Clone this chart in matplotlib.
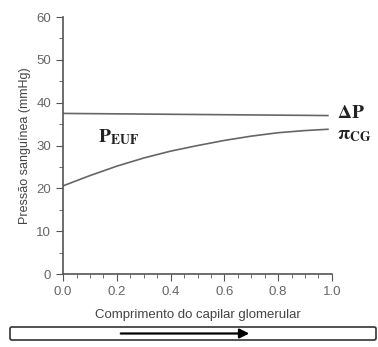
import matplotlib
matplotlib.use("Agg")
import matplotlib.pyplot as plt
from matplotlib.patches import FancyBboxPatch, FancyArrowPatch
from matplotlib.ticker import MultipleLocator

plt.rcParams["mathtext.fontset"] = "stix"

# data
comprimento = [0.0, 0.1, 0.2, 0.3, 0.4, 0.5, 0.6, 0.7, 0.8, 0.9, 0.985]
delta_p = [37.5, 37.45, 37.4, 37.35, 37.3, 37.25, 37.2, 37.15, 37.1, 37.05, 37.0]
pi_cg = [20.6, 23.0, 25.2, 27.1, 28.7, 30.0, 31.2, 32.2, 33.0, 33.5, 33.8]

fig = plt.figure(figsize=(3.78, 3.47), dpi=100)
ax = fig.add_axes([0.167, 0.21, 0.711, 0.741])

ax.plot(comprimento, delta_p, color="#666666", lw=1.2)
ax.plot(comprimento, pi_cg, color="#666666", lw=1.2)

ax.set_xlim(0, 1.0)
ax.set_ylim(0, 60)
ax.xaxis.set_major_locator(MultipleLocator(0.2))
ax.xaxis.set_minor_locator(MultipleLocator(0.05))
ax.yaxis.set_major_locator(MultipleLocator(10))
ax.yaxis.set_minor_locator(MultipleLocator(5))
ax.xaxis.set_major_formatter(plt.FuncFormatter(lambda v, p: "%.1f" % v))

for s in ["top", "right"]:
    ax.spines[s].set_visible(False)
for s in ["left", "bottom"]:
    ax.spines[s].set_color("#555555")
    ax.spines[s].set_linewidth(1.2)
ax.tick_params(which="both", colors="#555555", labelcolor="#666666", labelsize=9.5)
ax.tick_params(which="major", length=5)
ax.tick_params(which="minor", length=3)
for t in ax.get_xticklabels() + ax.get_yticklabels():
    t.set_family("Liberation Sans")

ax.set_xlabel("Comprimento do capilar glomerular", family="Liberation Sans",
              fontsize=9.5, color="#444444", labelpad=8)
ax.set_ylabel("Pressão sanguínea (mmHg)", family="Liberation Sans",
              fontsize=9, color="#444444", labelpad=4)

# curve labels
ax.text(0.13, 32, r"$\mathbf{P}_{\mathbf{EUF}}$", fontsize=14,
        va="center", color="#222222")
ax.text(1.02, 37.6, r"$\mathbf{\Delta P}$", fontsize=14, va="center",
        color="#222222", clip_on=False)
ax.text(1.02, 32.6, r"$\mathbf{\pi_{CG}}$", fontsize=14, va="center",
        color="#222222", clip_on=False)

# capillary with flow arrow
fig.add_artist(FancyBboxPatch((10 / 378, 7 / 347), 366 / 378, 13 / 347,
                              boxstyle="round,pad=0,rounding_size=0.005",
                              transform=fig.transFigure, fill=False,
                              ec="#333333", lw=1.2))
fig.add_artist(FancyArrowPatch((118 / 378, 13.5 / 347), (252 / 378, 13.5 / 347),
                               transform=fig.transFigure, arrowstyle="-|>",
                               mutation_scale=14, color="black", lw=1.6))

fig.savefig("out.png", dpi=100)
